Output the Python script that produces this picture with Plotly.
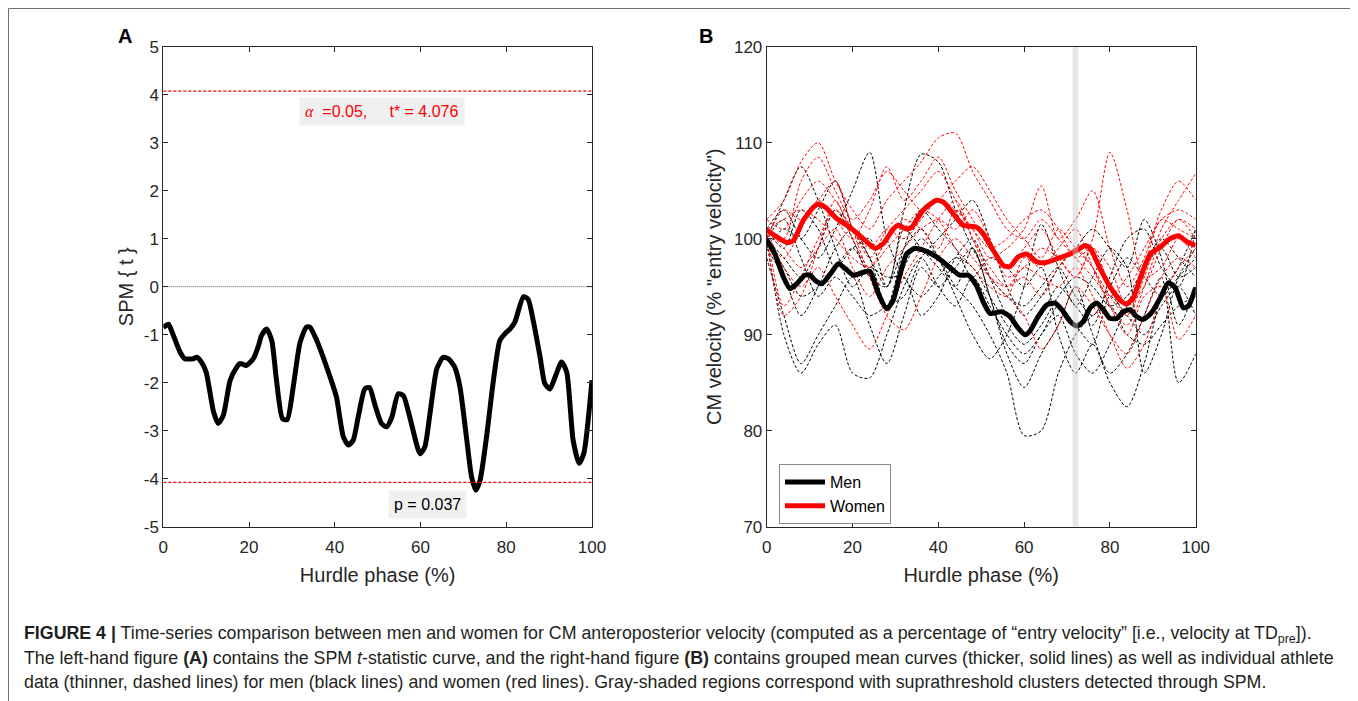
import plotly.graph_objects as go

# ---------------- Panel A : SPM {t} curve ----------------
spm_x = [0, 1.2, 1.9, 3.9, 5, 7, 7.8, 8.9, 10, 11.7, 12.8, 14, 15.6, 17.1, 17.9, 19.4, 21, 22.2,
         22.9, 24.1, 25.3, 26.4, 27.8, 28.9, 30.3, 31.9, 33.4, 34.2, 35.8, 38.9, 40.4, 42, 43.2,
         44.3, 45.5, 47, 48.1, 49.4, 50.9, 52.1, 53.3, 54.8, 56, 57.5, 59.9, 61, 62.2, 63.8, 65.3,
         66.5, 68, 69.2, 70.8, 71.9, 72.9, 73.9, 75.4, 77, 78.5, 79.7, 80.9, 82, 84, 85.1, 86.3,
         87.9, 89, 90.2, 91.4, 92.9, 94.1, 95.6, 97, 98.1, 100]
spm_t = [-0.85, -0.78, -0.91, -1.36, -1.5, -1.5, -1.47, -1.57, -1.78, -2.6, -2.85, -2.68, -1.95,
         -1.68, -1.6, -1.64, -1.5, -1.23, -1.02, -0.88, -1.12, -1.95, -2.75, -2.77, -2.09, -1.16,
         -0.84, -0.84, -1.12, -1.88, -2.3, -3.13, -3.3, -3.2, -2.7, -2.13, -2.1, -2.47, -2.85, -2.92,
         -2.72, -2.23, -2.27, -2.72, -3.48, -3.34, -2.65, -1.71, -1.47, -1.5, -1.68, -2.09, -3.2,
         -3.96, -4.24, -4.03, -3.13, -1.95, -1.12, -0.98, -0.88, -0.74, -0.21, -0.26, -0.71, -1.47,
         -2.02, -2.13, -1.88, -1.57, -1.78, -3.2, -3.68, -3.47, -1.95]
t_crit = 4.076
p_value = 0.037
alpha = 0.05
a_yticks = [-5, -4, -3, -2, -1, 0, 1, 2, 3, 4, 5]
a_yticktext = ["-5", "-4", "-3", "-2", "-1", "0", "1", "2", "3", "4", "5"]
x_ticks = [0, 20, 40, 60, 80, 100]

# ---------------- Panel B : CM velocity ----------------
women_mean_x = [0, 2.3, 4.7, 6.2, 8.5, 10.9, 12, 13.6, 16.3, 19.4, 22.5, 25.3, 27.2, 29.5, 30.7, 32.6,
                33.8, 36.5, 39.6, 41.2, 43.5, 45.8, 48.9, 50.5, 52.8, 55.2, 56.7, 58.6, 60.6, 62.9,
                64.9, 67.6, 70.7, 72.3, 74.2, 75.4, 77.7, 80, 82.4, 83.9, 85.5, 87.4, 89.4, 91.7, 94,
                96, 97.9, 100]
women_mean_y = [100.9, 100.2, 99.6, 99.8, 101.9, 103.3, 103.6, 103.3, 102.1, 101.2, 100.0, 99.0,
                99.5, 101.0, 101.4, 101.0, 101.2, 103.0, 104.0, 103.8, 102.6, 101.4, 101.2, 100.5,
                98.8, 97.2, 97.1, 98.1, 98.4, 97.6, 97.5, 97.9, 98.4, 98.8, 99.3, 99.0, 96.9, 95.0,
                93.6, 93.2, 93.9, 96.3, 98.4, 99.1, 100.0, 100.3, 99.7, 99.3]
men_mean_x = [0, 1.9, 3.9, 5.4, 7, 8.9, 10.1, 11.2, 12.8, 14.8, 16.7, 18.3, 20.2, 22.5, 24.1, 26, 28,
              29.5, 31.1, 32.6, 34.6, 36.5, 39.6, 42.7, 45, 47, 48.9, 50.5, 52.1, 54.7, 56.7, 58.6,
              60.2, 61.3, 63.3, 65.3, 67.2, 68.8, 70.7, 72.3, 73.8, 75.4, 76.9, 78.5, 80, 81.6, 83.1,
              84.7, 86.2, 87.8, 89.7, 91.7, 93.6, 95.2, 97.1, 98.3, 100]
men_mean_y = [99.9, 98.4, 96.0, 94.8, 95.3, 96.2, 96.2, 95.7, 95.3, 96.3, 97.4, 96.9, 96.2, 96.5,
              96.6, 94.3, 92.7, 93.6, 96.3, 98.4, 99.0, 98.8, 98.1, 97.0, 96.2, 96.2, 95.1, 93.4,
              92.2, 92.4, 91.9, 90.7, 90.0, 90.35, 91.9, 93.1, 93.3, 92.6, 91.4, 90.9, 91.4, 92.8,
              93.3, 92.6, 91.7, 91.7, 92.4, 92.6, 91.9, 91.6, 92.3, 93.8, 95.4, 94.9, 92.8, 93.0, 94.9]

ind_x = [0, 4, 8, 12, 16, 20, 24, 28, 32, 36, 40, 44, 48, 52, 56, 60, 64, 68, 72, 76, 80, 84, 88, 92, 96, 100]
men_m1 = [100, 97, 94, 95, 97, 99, 96, 93, 97, 100, 98, 95, 93, 90, 86, 79.5, 80, 86, 90, 92, 93, 90, 89, 91, 93, 94]
men_m2 = [101, 103, 100, 98, 101, 105, 109, 100, 96, 94, 96, 98, 97, 94, 91, 89, 91, 94, 96, 95, 93, 94, 97, 99, 96, 97]
men_m3 = [99, 96, 92, 95, 99, 101, 98, 95, 103, 108.8, 108, 103, 99, 96, 94, 93, 95, 97, 94, 92, 95, 98, 96, 94, 96, 98]
men_m4 = [100, 104, 107.5, 104, 99, 95, 97, 96, 96, 92, 94, 98, 100, 96, 92, 90, 92, 95, 93, 91, 96, 100, 101, 97, 95, 101]
men_m5 = [100, 90, 86, 89, 91, 86, 85.5, 90, 95, 98, 95, 93, 96, 93, 90, 88, 90, 93, 91, 89, 94, 92, 90, 93, 95, 92]
men_m6 = [98, 92, 87, 90, 93, 96, 91, 87, 92, 97, 95, 97, 99, 94, 89, 87, 90, 92, 88, 86, 89, 93, 97, 100, 98, 96]
men_m7 = [100, 98, 96, 99, 103, 100, 96, 95, 101, 99, 97, 95, 99, 94, 88, 84.5, 88, 91, 95, 90, 86, 88, 92, 96, 85, 88]
men_m8 = [99, 101, 100, 103, 106, 101, 98, 93, 99, 103, 101, 99, 96, 98, 97, 95, 97, 90, 86, 89, 85, 82.5, 87, 94, 97, 101]
men_m9 = [101, 99, 103, 101, 97, 99, 100, 95, 99, 101, 98, 94, 90, 87.5, 90, 95, 101.5, 97, 93, 96, 99, 97, 86, 90, 96, 99]
men_m10 = [100, 102, 98, 94, 96, 94, 92, 93, 94, 98, 100, 102, 104, 100, 95, 92, 94, 97, 99, 101, 99, 97, 102, 98, 91, 95]
men_individual = [men_m1, men_m2, men_m3, men_m4, men_m5, men_m6, men_m7, men_m8, men_m9, men_m10]

women_w1 = [102, 104, 108, 110, 106, 103, 101, 104, 106, 108, 110.5, 111, 107, 104, 101, 100, 102, 100, 98, 96, 94, 96, 99, 102, 103, 102]
women_w2 = [101, 100, 106, 108.5, 105, 102, 104, 107, 105, 103, 104, 106, 107.5, 105, 102, 100, 98, 101, 99, 97, 94, 92, 96, 101, 104, 106.8]
women_w3 = [100, 98, 101, 104, 102, 100, 103, 107.5, 104, 106, 108.5, 105, 102, 99, 97, 99, 101, 98, 96, 99, 97, 93, 95, 99, 102, 100]
women_w4 = [101, 99, 97, 99, 101, 97, 94, 97, 99, 101, 102, 101, 103, 100, 96, 97, 99, 98, 96, 100, 109, 103, 96, 97, 100, 98]
women_w5 = [100, 92, 94, 99, 104, 100, 97, 100, 102, 101, 99, 103, 101, 98, 99, 101, 105.5, 100, 102, 105, 99, 95, 98, 103, 106, 104]
women_w6 = [101, 97, 95, 97, 94, 91, 88.5, 92, 96, 99, 102, 104, 100, 96, 94, 92, 88.5, 91, 95, 93, 90, 88, 92, 96, 98, 97]
women_w7 = [100, 103, 102, 104, 106, 101, 96, 92, 90.5, 94, 98, 100, 98, 96, 95, 97, 96, 95, 97, 94, 90, 86.5, 89, 94, 97, 99]
women_w8 = [101, 93, 96, 100, 103, 101, 98, 101, 103, 105, 107, 104, 100, 97, 95, 96, 94, 97, 99, 97, 93, 90, 94, 95, 89.5, 92]
women_w9 = [102, 101, 104, 106, 104, 101, 99, 101, 100, 102, 104, 103, 101, 99, 100, 102, 103, 101, 98, 99, 95, 92, 97, 102, 101, 100]
women_w10 = [101, 102, 103, 102, 100, 98, 97, 99, 101, 103, 102, 99, 97, 95, 94, 98, 97, 99, 101, 97, 93, 91, 95, 100, 102, 101]
women_individual = [women_w1, women_w2, women_w3, women_w4, women_w5, women_w6, women_w7, women_w8, women_w9, women_w10]

cluster_start, cluster_end = 71.3, 72.6
b_yticks = [70, 80, 90, 100, 110, 120]

caption_1 = ("<b>FIGURE 4 |</b> Time-series comparison between men and women for CM anteroposterior velocity "
             "(computed as a percentage of \u201centry velocity\u201d [i.e., velocity at TD<sub>pre</sub>]).")
caption_2 = ("The left-hand figure <b>(A)</b> contains the SPM <i>t</i>-statistic curve, and the right-hand figure "
             "<b>(B)</b> contains grouped mean curves (thicker, solid lines) as well as individual athlete")
caption_3 = ("data (thinner, dashed lines) for men (black lines) and women (red lines). Gray-shaded regions "
             "correspond with suprathreshold clusters detected through SPM.")

# ---------------- Figure geometry (page pixels -> paper) ----------------
OFF = 8                      # default page margin of the html body
WF, HF = 1358 - OFF, 701 - OFF


def px(x):
    return (x - OFF) / WF


def py(y):
    return 1 - (y - OFF) / HF


FONT = "Arial, 'Liberation Sans', Helvetica, sans-serif"
AX = "#262626"

fig = go.Figure()

fig.add_trace(go.Scatter(x=spm_x, y=spm_t, mode="lines",
                         line=dict(color="black", width=5, shape="spline", smoothing=0.6),
                         xaxis="x", yaxis="y", showlegend=False, hoverinfo="skip"))

for ys in men_individual:
    fig.add_trace(go.Scatter(x=ind_x, y=ys, mode="lines", xaxis="x2", yaxis="y2", showlegend=False,
                             line=dict(color="black", width=1, dash="3px,2px", shape="spline", smoothing=0.8)))
for ys in women_individual:
    fig.add_trace(go.Scatter(x=ind_x, y=ys, mode="lines", xaxis="x2", yaxis="y2", showlegend=False,
                             line=dict(color="#ff0000", width=1, dash="3px,2px", shape="spline", smoothing=0.8)))

fig.add_trace(go.Scatter(x=men_mean_x, y=men_mean_y, mode="lines", name="Men", xaxis="x2", yaxis="y2",
                         line=dict(color="black", width=5, shape="spline", smoothing=0.6)))
fig.add_trace(go.Scatter(x=women_mean_x, y=women_mean_y, mode="lines", name="Women", xaxis="x2", yaxis="y2",
                         line=dict(color="#ff0000", width=5, shape="spline", smoothing=0.6)))

xdomA = [px(163.3), px(592.0)]
xdomB = [px(766.7), px(1195.7)]
ydom = [py(526.7), py(46.7)]

axis_common = dict(showline=True, linecolor=AX, linewidth=1, mirror="ticks", ticks="inside", ticklen=5,
                   tickcolor=AX, showgrid=False, zeroline=False, tickfont=dict(family=FONT, size=17, color=AX),
                   automargin=False)
title_font = dict(size=20, family=FONT, color=AX)

fig.update_layout(
    width=WF, height=HF, margin=dict(l=0, r=0, t=0, b=0),
    paper_bgcolor="white", plot_bgcolor="white",
    font=dict(family=FONT, color=AX),
    xaxis=dict(domain=xdomA, range=[0, 100], tickvals=x_ticks, anchor="y", ticklabelstandoff=5,
               title=dict(text="Hurdle phase (%)", font=title_font, standoff=11), **axis_common),
    yaxis=dict(domain=ydom, range=[-5, 5], tickvals=a_yticks, ticktext=a_yticktext, anchor="x",
               ticklabelstandoff=0, title=dict(text="SPM { t }", font=title_font, standoff=4), **axis_common),
    xaxis2=dict(domain=xdomB, range=[0, 100], tickvals=x_ticks, anchor="y2", ticklabelstandoff=5,
                title=dict(text="Hurdle phase (%)", font=title_font, standoff=11), **axis_common),
    yaxis2=dict(domain=ydom, range=[70, 120], tickvals=b_yticks, anchor="x2", ticklabelstandoff=0,
                title=dict(text="CM velocity (% \"entry velocity\")", font=title_font, standoff=6), **axis_common),
    legend=dict(x=px(779), y=py(464), xanchor="left", yanchor="top", bgcolor="white",
                bordercolor="#8a8a8a", borderwidth=1, font=dict(size=16, family=FONT, color="black"),
                tracegroupgap=0, itemwidth=40),
)

shapes = [
    dict(type="line", xref="x", yref="y", x0=0, x1=100, y0=t_crit, y1=t_crit,
         line=dict(color="#ff0000", width=1.2, dash="3px,2px")),
    dict(type="line", xref="x", yref="y", x0=0, x1=100, y0=-t_crit, y1=-t_crit,
         line=dict(color="#ff0000", width=1.2, dash="3px,2px")),
    dict(type="line", xref="x", yref="y", x0=0, x1=100, y0=0, y1=0,
         line=dict(color="#333333", width=0.8, dash="1px,1px")),
    dict(type="rect", xref="x2", yref="y2", x0=cluster_start, x1=cluster_end, y0=70, y1=120,
         fillcolor="rgba(200,200,200,0.45)", line=dict(width=0), layer="above"),
    dict(type="rect", xref="paper", yref="paper", x0=0.5 / WF, x1=px(1355), y0=-0.05, y1=1 - 0.5 / HF,
         line=dict(color="#6e6e6e", width=1), fillcolor="rgba(0,0,0,0)", layer="below"),
]
fig.update_layout(shapes=shapes)

annotations = [
    dict(xref="x", yref="y", x=51.1, y=3.65, showarrow=False, bgcolor="#f0f0f0", borderpad=5,
         xanchor="center", yanchor="middle",
         text="<span style=\"font-family:'Liberation Serif',serif\"><i>\u03b1</i></span>\u00a0\u00a0=" +
              f"{alpha:.2f}," + "\u00a0\u00a0\u00a0\u00a0\u00a0t* = " + f"{t_crit:.3f}",
         font=dict(family=FONT, size=16, color="#ff0000")),
    dict(xref="x", yref="y", x=61.7, y=-4.53, showarrow=False, bgcolor="#f0f0f0", borderpad=5,
         xanchor="center", yanchor="middle",
         text=f"p = {p_value:.3f}", font=dict(family=FONT, size=16, color="black")),
    dict(xref="paper", yref="paper", x=px(125), y=py(36), xanchor="center", yanchor="middle",
         showarrow=False, text="<b>A</b>", font=dict(family=FONT, size=20, color="black")),
    dict(xref="paper", yref="paper", x=px(706), y=py(36), xanchor="center", yanchor="middle",
         showarrow=False, text="<b>B</b>", font=dict(family=FONT, size=20, color="black")),
]
for txt, yy in [(caption_1, 634), (caption_2, 658), (caption_3, 682)]:
    annotations.append(dict(xref="paper", yref="paper", x=px(22), y=py(yy), xanchor="left", yanchor="middle",
                            showarrow=False, text=txt, align="left",
                            font=dict(family=FONT, size=17.8, color="#231f20")))
fig.update_layout(annotations=annotations)

fig.write_html("out.html")
